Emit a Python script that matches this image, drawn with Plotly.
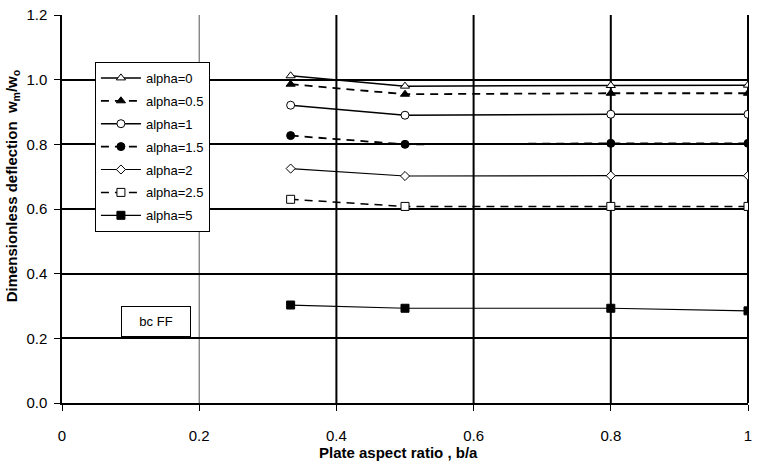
import plotly.graph_objects as go

x_vals = [0.3333, 0.5, 0.8, 1.0]
series_names = ["alpha=0", "alpha=0.5", "alpha=1", "alpha=1.5", "alpha=2", "alpha=2.5", "alpha=5"]
a0 = [1.012, 0.980, 0.982, 0.983]
a05 = [0.986, 0.955, 0.958, 0.958]
a1 = [0.921, 0.890, 0.893, 0.893]
a15 = [0.827, 0.800, 0.803, 0.803]
a2 = [0.725, 0.702, 0.703, 0.703]
a25 = [0.630, 0.608, 0.608, 0.608]
a5 = [0.303, 0.293, 0.293, 0.285]
series_vals = [a0, a05, a1, a15, a2, a25, a5]

symbols = ["triangle-up", "triangle-up", "circle", "circle", "diamond", "square", "square"]
fills = ["white", "black", "white", "black", "white", "white", "black"]
sizes = [8, 8, 8, 8, 7, 8, 8]
dashes = ["solid", "8px,6px", "solid", "8px,6px", "solid", "8px,6px", "solid"]
widths = [1.5, 1.8, 1.5, 1.8, 1.2, 1.5, 1.2]

x_ticks = [0, 0.2, 0.4, 0.6, 0.8, 1.0]
x_tick_text = ["0", "0.2", "0.4", "0.6", "0.8", "1"]
y_ticks = [0.0, 0.2, 0.4, 0.6, 0.8, 1.0, 1.2]
y_tick_text = ["0.0", "0.2", "0.4", "0.6", "0.8", "1.0", "1.2"]

fig = go.Figure()
for i, name in enumerate(series_names):
    fig.add_trace(go.Scatter(
        x=x_vals, y=series_vals[i], name=name, mode="lines+markers",
        legendgroup=name,
        line=dict(color="black", width=widths[i], dash=dashes[i]),
        marker=dict(symbol=symbols[i], size=sizes[i], color=fills[i],
                    line=dict(color="black", width=1)),
    ))

shapes = []
for xv in [0.4, 0.6, 0.8]:
    shapes.append(dict(type="line", xref="x", yref="paper", x0=xv, x1=xv, y0=0, y1=1,
                       line=dict(color="black", width=2), layer="below"))
shapes.append(dict(type="line", xref="x", yref="paper", x0=0.2, x1=0.2, y0=0, y1=1,
                   line=dict(color="#555555", width=1), layer="below"))
shapes.append(dict(type="line", xref="paper", yref="paper", x0=1, x1=1, y0=0, y1=1,
                   line=dict(color="black", width=2), layer="below"))

fig.update_layout(
    width=759, height=462,
    margin=dict(l=62, r=11, t=15, b=59, autoexpand=False),
    plot_bgcolor="white", paper_bgcolor="white",
    font=dict(family="Liberation Sans, Arial", size=15, color="black"),
    showlegend=True,
    legend=dict(x=0.048, y=0.879, xanchor="left", yanchor="top",
                bordercolor="black", borderwidth=1, bgcolor="white",
                font=dict(size=13, color="black"), tracegroupgap=3,
                itemwidth=40),
    shapes=shapes,
    xaxis=dict(range=[0, 1], tickvals=x_ticks, ticktext=x_tick_text,
               showgrid=False, zeroline=False, showline=True, linecolor="black",
               linewidth=1.5, ticks="outside", ticklen=6, tickcolor="black",
               tickfont=dict(size=15), automargin=False, ticklabelstandoff=12),
    yaxis=dict(range=[0, 1.2], tickvals=y_ticks, ticktext=y_tick_text,
               showgrid=True, gridcolor="black", gridwidth=2, zeroline=False,
               showline=True, linecolor="black", linewidth=1.5, mirror=False,
               ticks="outside", ticklen=6, tickcolor="black",
               tickfont=dict(size=15), automargin=False, ticklabelstandoff=4),
    annotations=[
        dict(text="bc FF", xref="paper", yref="paper", x=0.137, y=0.211,
             xanchor="center", yanchor="middle",
             showarrow=False, font=dict(size=13, color="black"),
             bordercolor="black", borderwidth=1, borderpad=7, bgcolor="white",
             width=54),
        dict(text="<b>Dimensionless deflection  w<sub>m</sub>/w<sub>o</sub></b>",
             xref="paper", yref="paper", x=-0.072, y=0.56, textangle=-90,
             xanchor="center", yanchor="middle",
             showarrow=False, font=dict(size=15, color="black")),
        dict(text="<b>Plate aspect ratio , b/a</b>", xref="paper", yref="paper",
             x=0.49, y=-0.128, showarrow=False, xanchor="center", yanchor="middle",
             font=dict(size=15, color="black")),
    ],
)

fig.write_html("out.html")
